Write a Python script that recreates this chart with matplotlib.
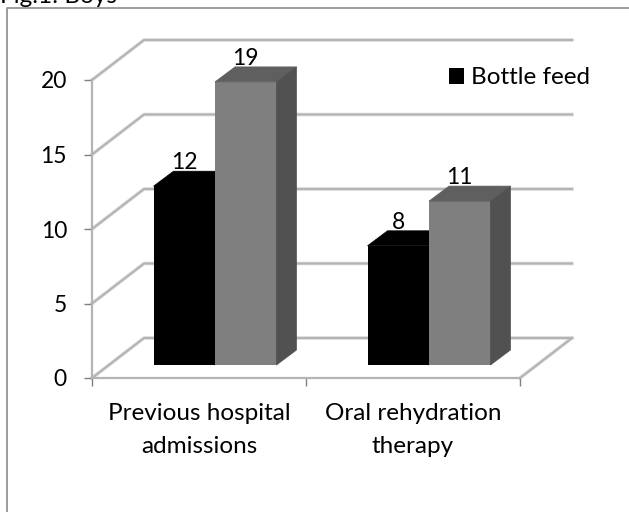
import matplotlib
matplotlib.use('Agg')
import matplotlib.pyplot as plt
from matplotlib.patches import Polygon, Patch
from matplotlib.lines import Line2D

plt.rcParams['font.family'] = ['Lato', 'DejaVu Sans']

categories = ['Previous hospital\nadmissions', 'Oral rehydration\ntherapy']
bottle_feed = [12, 8]
other_feed = [19, 11]
y_ticks = [0, 5, 10, 15, 20]
legend_label = 'Bottle feed'
title = 'Fig.1: Boys'

W, H = 629, 512
FS = 17.5
NUM_FS = 16.5
GRID = '#b4b4b4'

fig = plt.figure(figsize=(W / 100, H / 100), dpi=100)
ax = fig.add_axes([92 / W, (H - 378) / H, 428 / W, 298 / H])
ax.set_xlim(-0.5, 1.5)
ax.set_ylim(0, 20)
ax.patch.set_alpha(0)

# 3d look, in data units
wall_dx, wall_dy = 52 / 214, 40 / 14.9
bar_dx, bar_dy = 20 / 214, 15 / 14.9
lift = 13 / 14.9
shift = 16 / 214
bar_w = 61.5 / 214


def shade(pts, color, z):
    ax.add_patch(Polygon(pts, closed=True, facecolor=color, edgecolor=color,
                         lw=0.5, clip_on=False, zorder=z))


# walls and gridlines
x0, x1 = ax.get_xlim()
for v in y_ticks:
    xs = [x0, x0 + wall_dx, x1 + wall_dx]
    ys = [v, v + wall_dy, v + wall_dy]
    ax.plot(xs, ys, color='#dddddd', lw=2.6, clip_on=False, zorder=1, solid_joinstyle='round')
    ax.plot(xs, ys, color=GRID, lw=1.5, clip_on=False, zorder=1.1, solid_joinstyle='round')
ax.plot([x1, x1 + wall_dx], [0, wall_dy], color='#dddddd', lw=2.6, clip_on=False, zorder=1)
ax.plot([x1, x1 + wall_dx], [0, wall_dy], color=GRID, lw=1.5, clip_on=False, zorder=1.1)

for s in ['top', 'right']:
    ax.spines[s].set_visible(False)
for s in ['left', 'bottom']:
    ax.spines[s].set_color(GRID)
    ax.spines[s].set_linewidth(1.6)

ax.set_yticks(y_ticks)
ax.set_xticks([-0.5, 0.5, 1.5])
ax.set_xticklabels([])
ax.set_xticks([0, 1], minor=True)
ax.set_xticklabels(categories, minor=True, fontsize=FS, color='black', linespacing=1.68)
ax.tick_params(axis='x', which='minor', length=0, pad=18)
ax.tick_params(axis='x', which='major', length=6, width=1, color='#808080')
ax.tick_params(axis='y', length=6, width=1, color='#808080', labelsize=NUM_FS, pad=12)


def draw_bars(values, offset, front, top, side, z):
    for i, v in enumerate(values):
        left = i + shift + offset - bar_w / 2
        right = left + bar_w
        base, high = lift, lift + v
        ax.bar(left + bar_w / 2, v, bar_w, bottom=base, color=front, clip_on=False, zorder=z)
        shade([(left, high), (right, high), (right + bar_dx, high + bar_dy), (left + bar_dx, high + bar_dy)], top, z)
        shade([(right, base), (right + bar_dx, base + bar_dy), (right + bar_dx, high + bar_dy), (right, high)], side, z)
        ax.text(left + bar_w / 2, high + bar_dy - 0.15, str(v), ha='center', va='bottom',
                fontsize=NUM_FS, color='black', zorder=6, clip_on=False)


draw_bars(bottle_feed, -bar_w / 2, 'black', 'black', 'black', 3)
draw_bars(other_feed, bar_w / 2, '#7f7f7f', '#5f5f5f', '#515151', 4)

ax.legend(handles=[Patch(facecolor='black', label=legend_label)], frameon=False, fontsize=FS,
          loc='center left', bbox_to_anchor=(449 / W, (H - 78) / H), bbox_transform=fig.transFigure,
          handlelength=0.62, handleheight=0.62, handletextpad=0.3, borderpad=0, borderaxespad=0)

# outer frame, runs off the page at the bottom and right
frame = '#8c8c8c'
fig.add_artist(Line2D([7 / W, 7 / W, 1], [0, (H - 8) / H, (H - 8) / H], color=frame, lw=1.2))
fig.text(0 / W, (H - 3) / H, title, fontsize=FS, color='black', ha='left', va='baseline')

fig.savefig('out.png', dpi=100)
